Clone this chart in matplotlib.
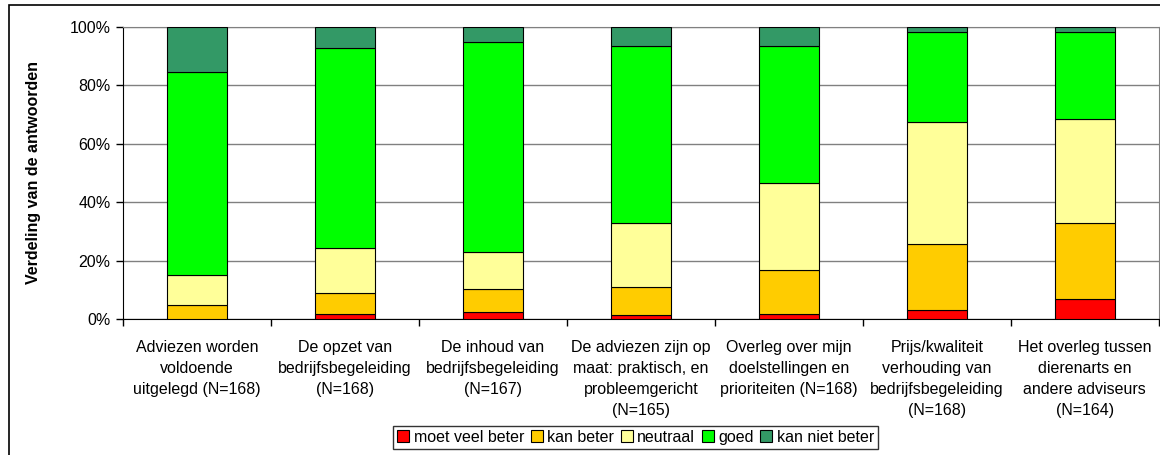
import matplotlib.pyplot as plt
import matplotlib.patches as patches
import numpy as np

plt.rcParams['font.family'] = ['Liberation Sans', 'DejaVu Sans']

categories = ["Adviezen worden\nvoldoende\nuitgelegd (N=168)",
              "De opzet van\nbedrijfsbegeleiding\n(N=168)",
              "De inhoud van\nbedrijfsbegeleiding\n(N=167)",
              "De adviezen zijn op\nmaat: praktisch, en\nprobleemgericht\n(N=165)",
              "Overleg over mijn\ndoelstellingen en\nprioriteiten (N=168)",
              "Prijs/kwaliteit\nverhouding van\nbedrijfsbegeleiding\n(N=168)",
              "Het overleg tussen\ndierenarts en\nandere adviseurs\n(N=164)"]

# percentages per answer
moet_veel_beter = [0.0, 1.8, 2.4, 1.2, 1.8, 3.0, 6.7]
kan_beter = [4.8, 7.1, 7.8, 9.7, 14.9, 22.6, 26.2]
neutraal = [10.1, 15.5, 12.6, 21.8, 29.8, 41.7, 35.4]
goed = [69.6, 68.5, 71.9, 60.6, 47.0, 30.9, 29.9]
kan_niet_beter = [15.5, 7.1, 5.4, 6.7, 6.5, 1.8, 1.8]

series = [moet_veel_beter, kan_beter, neutraal, goed, kan_niet_beter]
names = ["moet veel beter", "kan beter", "neutraal", "goed", "kan niet beter"]
colors = ["#FF0000", "#FFCC00", "#FFFF99", "#00FF00", "#339966"]

fig = plt.figure(figsize=(11.6, 4.55), dpi=100)
ax = fig.add_axes([0.106, 0.299, 0.893, 0.642])

x = np.arange(len(categories))
bottom = np.zeros(len(categories))
for vals, name, col in zip(series, names, colors):
    ax.bar(x, vals, 0.405, bottom=bottom, color=col, edgecolor='black',
           linewidth=0.8, label=name, zorder=3)
    bottom += np.array(vals)

ax.set_xlim(-0.5, len(categories) - 0.5)
ax.set_ylim(0, 100)
ax.set_yticks(range(0, 101, 20))
ax.set_yticklabels([f"{v}%" for v in range(0, 101, 20)], fontsize=11.5)
ax.yaxis.grid(True, color='#808080', linewidth=1, zorder=0)

ax.set_xticks(x)
ax.set_xticklabels(categories, fontsize=11.5, linespacing=1.5)
ax.tick_params(axis='x', which='major', length=0, pad=15)
ax.set_xticks(np.arange(-0.5, len(categories)), minor=True)
ax.tick_params(axis='x', which='minor', length=5, width=1, direction='out')
ax.tick_params(axis='y', length=5, width=1, direction='out', pad=4)

ax.spines['top'].set_color('#808080')
ax.spines['right'].set_color('#808080')
ax.spines['left'].set_color('black')
ax.spines['bottom'].set_color('black')

fig.text(0.029, 0.62, "Verdeling van de antwoorden", rotation=90,
         ha='center', va='center', fontsize=11.5, fontweight='bold')

leg = fig.legend(loc='center', bbox_to_anchor=(0.548, 0.039), ncol=5,
                 fontsize=11.5, frameon=True, fancybox=False, edgecolor='black',
                 handlelength=0.75, handleheight=0.75, handletextpad=0.3,
                 columnspacing=0.4, borderpad=0.25, borderaxespad=0)
leg.get_frame().set_linewidth(1)

# outer chart frame
frame = patches.Rectangle((8.5 / 1160, -0.05), 1.2, 1 - 5.5 / 455 + 0.05,
                          transform=fig.transFigure, fill=False,
                          edgecolor='black', linewidth=1.2)
fig.patches.append(frame)

fig.savefig('out.png', dpi=100)
